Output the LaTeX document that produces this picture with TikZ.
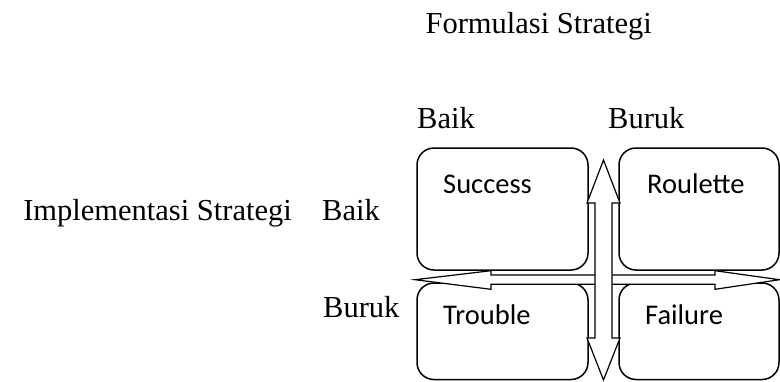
\documentclass[tikz,border=0pt]{standalone}
\usepackage{fontspec}
\setmainfont{Liberation Serif}
\newfontfamily\calibrifont{Carlito}
\begin{document}
\begin{tikzpicture}[x=1pt,y=-1pt,
  quad/.style={draw,line width=1.5pt,rounded corners=17pt,inner sep=0pt},
  serif/.style={font=\fontsize{30.5}{36}\selectfont,inner sep=0pt},
  sans/.style={font=\calibrifont\fontsize{28.5}{34}\selectfont,inner sep=0pt,anchor=base west},
  dblarrow/.style={draw,line width=1.2pt,fill=white,line join=miter}]
\useasboundingbox (0,0) rectangle (780,381);
% boxes
\draw[quad] (417,148) rectangle (588,270);
\draw[quad] (619,148) rectangle (779,270);
\draw[quad] (417,283) rectangle (588,379.5);
\draw[quad] (619,283) rectangle (779,379.5);
% box labels
\node[sans] (success) at (443,193) {Success};
\node[sans] (roulette) at (647,193) {Roulette};
\node[sans] (trouble) at (443,324) {Trouble};
\node[sans] (failure) at (645,324) {Failure};
% horizontal double arrow
\draw[dblarrow] (415,279.7) -- (491,270.7) -- (491,275) -- (715,275) -- (715,270.7)
  -- (779.5,279.7) -- (715,289.3) -- (715,284.3) -- (491,284.3) -- (491,289.3) -- cycle;
% vertical double arrow
\draw[dblarrow] (603.5,160) -- (620,203) -- (612,203) -- (612,338) -- (620,338)
  -- (603.5,380) -- (587,338) -- (595,338) -- (595,203) -- (587,203) -- cycle;
% serif labels
\node[serif,anchor=base east] (formulasi) at (652,33) {Formulasi Strategi};
\node[serif,anchor=base west] (baiktop) at (417,128) {Baik};
\node[serif,anchor=base west] (buruktop) at (608,128) {Buruk};
\node[serif,anchor=base east] (implementasi) at (292,220) {Implementasi Strategi};
\node[serif,anchor=base west] (baikleft) at (322,220) {Baik};
\node[serif,anchor=base west] (burukleft) at (323,317) {Buruk};
\end{tikzpicture}
\end{document}
